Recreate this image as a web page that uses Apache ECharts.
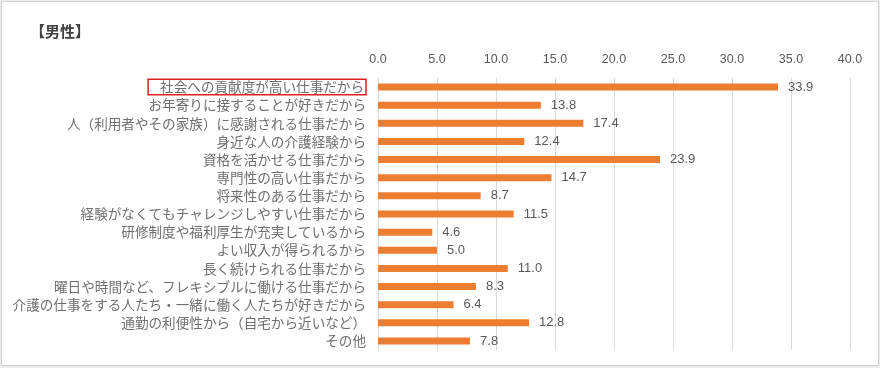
<!DOCTYPE html>
<html><head><meta charset="utf-8">
<script src="https://cdn.jsdelivr.net/npm/echarts@6/dist/echarts.min.js"></script>
<style>html,body{margin:0;padding:0;background:#ececec;}#c{width:880px;height:368px;}</style>
</head><body><div id="c"></div>
<script>
const title = '【男性】';
const categories = [
  '社会への貢献度が高い仕事だから',
  'お年寄りに接することが好きだから',
  '人（利用者やその家族）に感謝される仕事だから',
  '身近な人の介護経験から',
  '資格を活かせる仕事だから',
  '専門性の高い仕事だから',
  '将来性のある仕事だから',
  '経験がなくてもチャレンジしやすい仕事だから',
  '研修制度や福利厚生が充実しているから',
  'よい収入が得られるから',
  '長く続けられる仕事だから',
  '曜日や時間など、フレキシブルに働ける仕事だから',
  '介護の仕事をする人たち・一緒に働く人たちが好きだから',
  '通勤の利便性から（自宅から近いなど）',
  'その他'
];
const values = [33.9, 13.8, 17.4, 12.4, 23.9, 14.7, 8.7, 11.5, 4.6, 5.0, 11.0, 8.3, 6.4, 12.8, 7.8];
const highlighted = '社会への貢献度が高い仕事だから';

const chart = echarts.init(document.getElementById('c'));
const font = '"Noto Sans CJK JP", "Noto Sans", sans-serif';
const numFont = '"Liberation Sans", Arial, sans-serif';
chart.setOption({
  animation: false,
  backgroundColor: 'transparent',
  graphic: [
    {type: 'rect', left: 1, top: 1, z: -10, shape: {width: 877, height: 364}, style: {fill: '#fff', stroke: '#d0d0d0', lineWidth: 1}},
    {type: 'text', left: 30, top: 24, style: {text: title, font: 'bold 15px ' + font, fill: '#404040'}}
  ],
  grid: {left: 378, right: 30, top: 78, bottom: 18},
  xAxis: {
    type: 'value', position: 'top', min: 0, max: 40, interval: 5,
    axisLine: {show: false}, axisTick: {show: false},
    axisLabel: {formatter: v => v.toFixed(1), color: '#595959', fontSize: 12.5, margin: 12, fontFamily: numFont},
    splitLine: {lineStyle: {color: '#d9d9d9'}}
  },
  yAxis: {
    type: 'category', data: categories, inverse: true,
    axisLine: {show: false}, axisTick: {show: false},
    axisLabel: {
      color: '#6f6f6f', fontSize: 13.6, fontFamily: font, margin: 12,
      formatter: v => v === highlighted ? '{hl|' + v + '}' : v,
      rich: {hl: {color: '#6f6f6f', fontSize: 13.6, fontFamily: font, borderColor: '#e02020', borderWidth: 1.5, padding: [1, 2, 1, 12]}}
    }
  },
  series: [{
    type: 'bar', data: values, barWidth: 7,
    itemStyle: {color: '#ED7D31'},
    label: {show: true, position: 'right', distance: 10, formatter: p => p.value.toFixed(1), color: '#595959', fontSize: 13, fontFamily: numFont}
  }]
});
</script></body></html>
